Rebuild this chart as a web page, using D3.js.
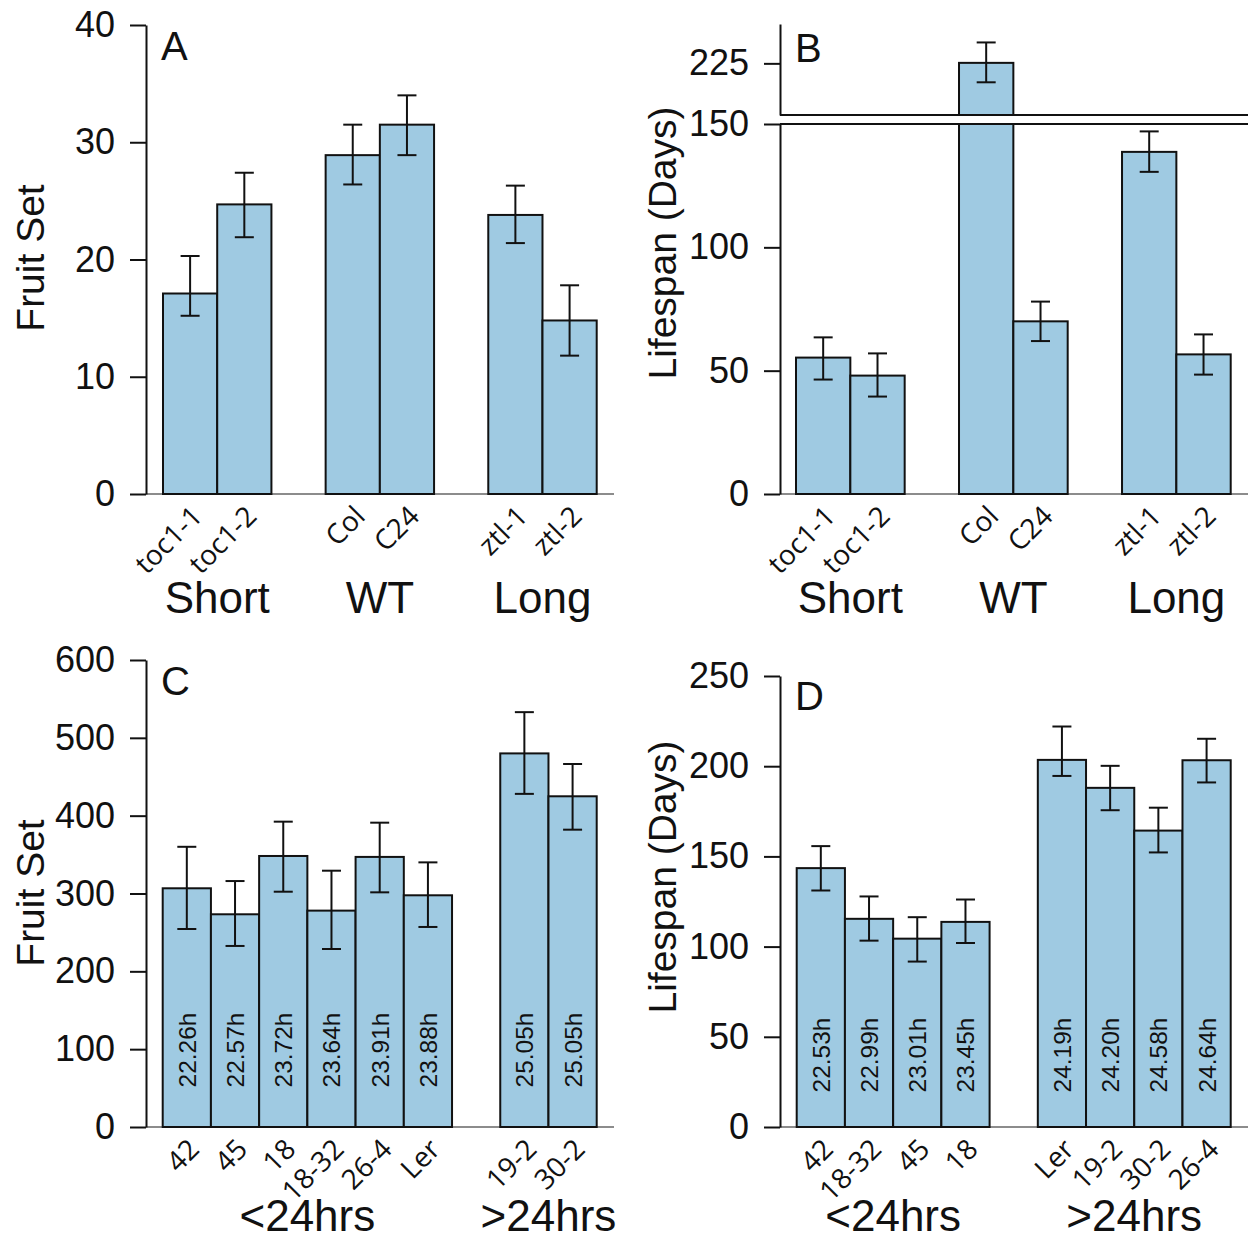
<!DOCTYPE html>
<html>
<head>
<meta charset="utf-8">
<script src="https://cdn.jsdelivr.net/npm/d3@7"></script>
<style>
  body { margin: 0; background: #fff; }
  text { font-family: "Liberation Sans", Arial, sans-serif; fill: #111; }
  .tick-cat { font-family: "Open Sans", "Liberation Sans", sans-serif; }
</style>
</head>
<body>
<div class="graph"></div>
<script>
// panel A - fruit set, clock mutants
const catA = ["toc1-1", "toc1-2", "Col", "C24", "ztl-1", "ztl-2"];
const groupA = ["Short", "Short", "WT", "WT", "Long", "Long"];
const fruitA = [17.1, 24.7, 28.9, 31.5, 23.8, 14.8];
const fruitAHi = [20.3, 27.4, 31.5, 34.0, 26.3, 17.8];
const fruitALo = [15.2, 21.9, 26.4, 28.9, 21.4, 11.8];
const ticksA = [0, 10, 20, 30, 40];

// panel B - lifespan, clock mutants (broken axis)
const catB = ["toc1-1", "toc1-2", "Col", "C24", "ztl-1", "ztl-2"];
const groupB = ["Short", "Short", "WT", "WT", "Long", "Long"];
const lifeB = [55.3, 48, 225.2, 70, 138.7, 56.6];
const lifeBHi = [63.5, 57, 233.5, 78, 147, 64.7];
const lifeBLo = [46.4, 39.5, 217.3, 62, 130.6, 48.4];
const ticksB = [0, 50, 100, 150];
const ticksBUpper = [225];

// panel C - fruit set, RILs
const catC = ["42", "45", "18", "18-32", "26-4", "Ler", "19-2", "30-2"];
const groupC = ["<24hrs", "<24hrs", "<24hrs", "<24hrs", "<24hrs", "<24hrs", ">24hrs", ">24hrs"];
const fruitC = [306.7, 273.3, 348.2, 278, 347, 297.7, 480, 424.9];
const fruitCHi = [360, 316, 392.3, 329.3, 391, 340, 533, 466.4];
const fruitCLo = [254.4, 232.6, 302.3, 228.7, 301.5, 257, 428, 382];
const periodC = ["22.26h", "22.57h", "23.72h", "23.64h", "23.91h", "23.88h", "25.05h", "25.05h"];
const ticksC = [0, 100, 200, 300, 400, 500, 600];

// panel D - lifespan, RILs
const catD = ["42", "18-32", "45", "18", "Ler", "19-2", "30-2", "26-4"];
const groupD = ["<24hrs", "<24hrs", "<24hrs", "<24hrs", ">24hrs", ">24hrs", ">24hrs", ">24hrs"];
const lifeD = [143.5, 115.4, 104.4, 113.7, 203.5, 188, 164.3, 203.3];
const lifeDHi = [155.7, 127.8, 116.3, 126.1, 222, 200.2, 177, 215.2];
const lifeDLo = [131.1, 103.3, 91.7, 102, 194.6, 175.6, 152.2, 191];
const periodD = ["22.53h", "22.99h", "23.01h", "23.45h", "24.19h", "24.20h", "24.58h", "24.64h"];
const ticksD = [0, 50, 100, 150, 200, 250];

const barColor = "#9fcae2";
const ink = "#111";

const svg = d3.select(".graph").append("svg")
  .attr("width", 1248)
  .attr("height", 1241);

function drawPanel(p) {
  const g = svg.append("g");
  const n = p.cats.length;

  // slot index: one empty slot between groups
  const groupNames = Array.from(new Set(p.groups));
  const slots = p.cats.map((c, i) => i + groupNames.indexOf(p.groups[i]));
  const nSlots = n + groupNames.length - 1;

  const x = d3.scaleBand()
    .domain(d3.range(nSlots))
    .range([p.barLeft, p.barRight])
    .padding(0);
  const bw = x.bandwidth();

  const y = d3.scaleLinear().domain(p.domain).range([p.bottom, p.top]);
  const yU = p.upper ? d3.scaleLinear().domain(p.upper.domain).range([p.upper.bottom, p.upper.top]) : null;

  // baseline
  g.append("line")
    .attr("x1", p.axisX).attr("x2", p.lineEnd)
    .attr("y1", y(0)).attr("y2", y(0))
    .attr("stroke", "#666").attr("stroke-width", 1.6);

  // bars
  p.vals.forEach((v, i) => {
    const bx = x(slots[i]);
    if (yU && v > p.domain[1]) {
      g.append("rect")
        .attr("x", bx).attr("width", bw)
        .attr("y", y(p.domain[1])).attr("height", y(0) - y(p.domain[1]))
        .attr("fill", barColor).attr("stroke", ink).attr("stroke-width", 2);
      g.append("rect")
        .attr("x", bx).attr("width", bw)
        .attr("y", yU(v)).attr("height", yU(p.upper.domain[0]) - yU(v))
        .attr("fill", barColor).attr("stroke", ink).attr("stroke-width", 2);
    } else {
      g.append("rect")
        .attr("x", bx).attr("width", bw)
        .attr("y", y(v)).attr("height", y(0) - y(v))
        .attr("fill", barColor).attr("stroke", ink).attr("stroke-width", 2);
    }
  });

  // error bars
  const cap = 9.5;
  p.vals.forEach((v, i) => {
    const cx = x(slots[i]) + bw / 2;
    const sc = (yU && v > p.domain[1]) ? yU : y;
    const hi = sc(p.hi[i]), lo = sc(p.lo[i]);
    g.append("line").attr("x1", cx).attr("x2", cx).attr("y1", hi).attr("y2", lo)
      .attr("stroke", ink).attr("stroke-width", 2);
    [hi, lo].forEach(yy => {
      g.append("line").attr("x1", cx - cap).attr("x2", cx + cap).attr("y1", yy).attr("y2", yy)
        .attr("stroke", ink).attr("stroke-width", 2);
    });
  });

  // period labels inside bars
  if (p.inner) {
    p.inner.forEach((t, i) => {
      const cx = x(slots[i]) + bw / 2;
      g.append("text")
        .attr("transform", "translate(" + (cx + 9) + "," + p.innerY + ") rotate(-90)")
        .attr("text-anchor", "middle")
        .style("font-size", "24.5px")
        .text(t);
    });
  }

  // y axis
  g.append("g")
    .attr("transform", "translate(" + p.axisX + ",0)")
    .call(d3.axisLeft(y).tickValues(p.ticks).tickSize(16).tickSizeOuter(0).tickPadding(15));
  if (yU) {
    g.append("g")
      .attr("transform", "translate(" + p.axisX + ",0)")
      .call(d3.axisLeft(yU).tickValues(p.upper.ticks).tickSize(16).tickSizeOuter(0).tickPadding(15));
    // break lines
    [p.upper.bottom, p.top].forEach(yy => {
      g.append("line").attr("x1", p.axisX).attr("x2", 1248).attr("y1", yy).attr("y2", yy)
        .attr("stroke", ink).attr("stroke-width", 2);
    });
  }
  g.selectAll(".domain, .tick line").attr("stroke", ink).attr("stroke-width", 2);
  g.selectAll(".tick text")
    .attr("fill", ink)
    .style("font-family", "'Liberation Sans', Arial, sans-serif")
    .style("font-size", "36px");

  // category labels, rotated 45 degrees
  p.cats.forEach((c, i) => {
    const cx = x(slots[i]) + bw / 2;
    g.append("text")
      .attr("class", "tick-cat")
      .attr("transform", "translate(" + (cx + 14) + "," + (y(0) + 24) + ") rotate(-45)")
      .attr("text-anchor", "end")
      .style("font-size", "28px")
      .text(c);
  });

  // group labels
  groupNames.forEach(gn => {
    const idx = slots.filter((s, i) => p.groups[i] === gn);
    const gx = (x(d3.min(idx)) + x(d3.max(idx)) + bw) / 2;
    g.append("text")
      .attr("x", gx).attr("y", p.groupY)
      .attr("text-anchor", "middle")
      .style("font-size", "44px")
      .text(gn);
  });

  // y title
  g.append("text")
    .attr("transform", "translate(" + p.titleX + "," + p.titleY + ") rotate(-90)")
    .attr("text-anchor", "middle")
    .style("font-size", "39px")
    .text(p.title);

  // panel letter
  g.append("text")
    .attr("x", p.axisX + 15).attr("y", p.letterY)
    .style("font-size", "40px")
    .text(p.letter);
}

drawPanel({
  letter: "A", letterY: 60, title: "Fruit Set", titleX: 44, titleY: 258,
  cats: catA, groups: groupA, vals: fruitA, hi: fruitAHi, lo: fruitALo, ticks: ticksA,
  domain: [0, 40], bottom: 494, top: 25, axisX: 146, lineEnd: 614,
  barLeft: 163, barRight: 596.7, groupY: 613
});

drawPanel({
  letter: "B", letterY: 62, title: "Lifespan (Days)", titleX: 676, titleY: 243,
  cats: catB, groups: groupB, vals: lifeB, hi: lifeBHi, lo: lifeBLo, ticks: ticksB,
  domain: [0, 150], bottom: 494, top: 124, axisX: 780, lineEnd: 1248,
  upper: { domain: [204, 241], bottom: 115, top: 24, ticks: ticksBUpper },
  barLeft: 796, barRight: 1230.7, groupY: 613
});

drawPanel({
  letter: "C", letterY: 695, title: "Fruit Set", titleX: 44, titleY: 893,
  cats: catC, groups: groupC, vals: fruitC, hi: fruitCHi, lo: fruitCLo, ticks: ticksC,
  domain: [0, 600], bottom: 1127, top: 660, axisX: 146, lineEnd: 614,
  barLeft: 162.7, barRight: 596.7, groupY: 1231,
  inner: periodC, innerY: 1050
});

drawPanel({
  letter: "D", letterY: 710, title: "Lifespan (Days)", titleX: 676, titleY: 877,
  cats: catD, groups: groupD, vals: lifeD, hi: lifeDHi, lo: lifeDLo, ticks: ticksD,
  domain: [0, 250], bottom: 1127, top: 676, axisX: 780, lineEnd: 1248,
  barLeft: 796.7, barRight: 1230.7, groupY: 1231,
  inner: periodD, innerY: 1055
});
</script>
</body>
</html>
